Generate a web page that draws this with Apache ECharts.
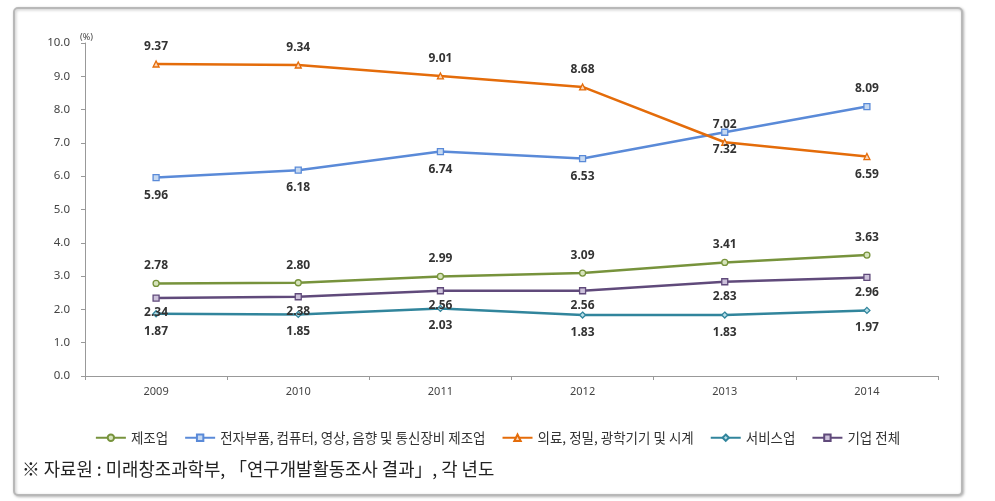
<!DOCTYPE html>
<html><head><meta charset="utf-8">
<script src="https://cdn.jsdelivr.net/npm/echarts@6/dist/echarts.min.js"></script>
<style>html,body{margin:0;padding:0;background:#fff;}#c{width:995px;height:501px;}</style>
</head><body><div id="c"></div>
<script>
const years = ['2009','2010','2011','2012','2013','2014'];
const names = ['제조업','전자부품, 컴퓨터, 영상, 음향 및 통신장비 제조업','의료, 정밀, 광학기기 및 시계','서비스업','기업 전체'];
const manufacturing = [2.78, 2.80, 2.99, 3.09, 3.41, 3.63];
const electronics = [5.96, 6.18, 6.74, 6.53, 7.32, 8.09];
const medical = [9.37, 9.34, 9.01, 8.68, 7.02, 6.59];
const services = [1.87, 1.85, 2.03, 1.83, 1.83, 1.97];
const allFirms = [2.34, 2.38, 2.56, 2.56, 2.83, 2.96];
const yTicks = [0,1,2,3,4,5,6,7,8,9,10];
const electronicsLabelPos = ['bottom','bottom','bottom','bottom','bottom','top'];
const medicalLabelPos = ['top','top','top','top','top','bottom'];

const chart = echarts.init(document.getElementById('c'));
const lbl = {show:true, fontFamily:'Noto Sans', fontWeight:'bold', fontSize:12, color:'#333', distance:8,
  formatter: p => p.value.toFixed(2)};
function mk(name, data, color, fill, symbol, pos, posArr, dist){
  return {
    name, type:'line', data: data.map((v,i)=>({value:v, label:{position: posArr?posArr[i]:pos}})),
    symbol, symbolSize:6, showSymbol:true,
    lineStyle:{color, width:2.5},
    itemStyle:{color:fill, borderColor:color, borderWidth:1.3},
    label:Object.assign({}, lbl, {position:pos}, dist!=null?{distance:dist}:{}),
    emphasis:{disabled:true}, z:3
  };
}
chart.setOption({
  animation:false,
  textStyle:{fontFamily:'Noto Sans'},
  graphic:[
    {type:'rect', shape:{x:14, y:8, width:948, height:487, r:4}, style:{fill:'#fff', stroke:'#b8b8b8', lineWidth:2, shadowColor:'rgba(0,0,0,0.25)', shadowBlur:3, shadowOffsetX:1, shadowOffsetY:1}, z:-10, silent:true},
    {type:'text', left:80, top:33, style:{text:'(%)', fontSize:9, fill:'#444', fontFamily:'Noto Sans'}},
    {type:'text', left:22, top:460, style:{text:'※ 자료원 : 미래창조과학부, 「연구개발활동조사 결과」, 각 년도', fontSize:17.8, fill:'#222', fontFamily:'Noto Sans CJK KR'}}
  ],
  grid:{left:85, right:57, top:43, bottom:125},
  legend:{
    data:names, left:'center', top:426, itemWidth:30, itemHeight:8, itemGap:16,
    textStyle:{fontSize:13.5, color:'#333', fontFamily:'Noto Sans CJK KR'}
  },
  xAxis:{
    type:'category', data:years, boundaryGap:true,
    axisLine:{lineStyle:{color:'#999'}},
    axisTick:{show:true, length:4, inside:false, lineStyle:{color:'#999'}},
    axisLabel:{fontSize:11, color:'#444', margin:10}
  },
  yAxis:{
    type:'value', min:yTicks[0], max:yTicks[yTicks.length-1], interval:1,
    axisLine:{show:true, lineStyle:{color:'#999'}},
    axisTick:{show:true, length:4, lineStyle:{color:'#999'}},
    splitLine:{show:false},
    axisLabel:{fontSize:11.5, color:'#444', margin:15, formatter:v=>v.toFixed(1)}
  },
  series:[
    mk(names[0], manufacturing, '#77933C', '#d7e4bd', 'circle', 'top'),
    mk(names[1], electronics, '#5A8AD8', '#c6d9f1', 'rect', 'bottom', electronicsLabelPos),
    mk(names[2], medical, '#E46C0A', '#fcd5b5', 'triangle', 'top', medicalLabelPos),
    mk(names[3], services, '#31859C', '#b7dee8', 'diamond', 'bottom'),
    mk(names[4], allFirms, '#604A7B', '#ccc1da', 'rect', 'bottom', null, 5)
  ]
});
</script></body></html>
